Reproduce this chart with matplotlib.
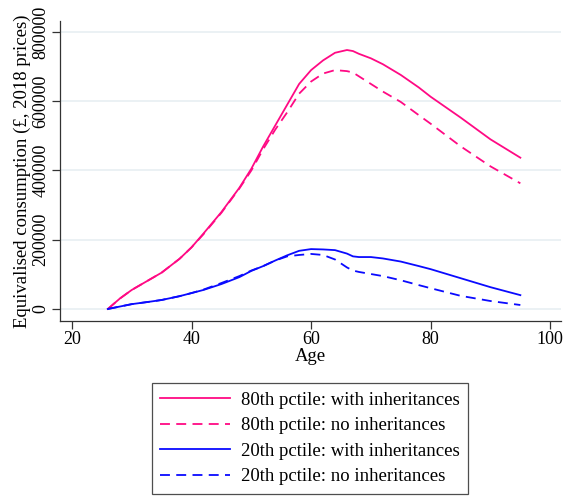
import numpy as np
import matplotlib.pyplot as plt

plt.rcParams['font.family'] = ['Liberation Serif', 'DejaVu Serif']

# consumption paths by age (equivalised, 2018 prices)
age = [26, 28, 30, 33, 35, 38, 40, 42, 45, 48, 50, 52, 54, 56, 58,
       60, 62, 64, 66, 67, 68, 70, 72, 75, 78, 80, 85, 90, 95]

p80_with = [0, 30000, 55000, 85000, 105000, 145000, 178000, 218000, 280000,
            350000, 405000, 470000, 530000, 590000, 650000, 690000, 718000,
            740000, 748000, 745000, 737000, 724000, 707000, 676000, 640000,
            613000, 553000, 490000, 437000]
p80_no = [0, 30000, 55000, 85000, 105000, 145000, 178000, 216000, 278000,
          348000, 400000, 462000, 518000, 568000, 622000, 657000, 680000,
          690000, 687000, 683000, 672000, 650000, 628000, 598000, 560000,
          535000, 470000, 412000, 363000]
p20_with = [0, 7000, 14000, 21000, 26000, 37000, 46000, 55000, 72000, 92000,
            110000, 124000, 140000, 155000, 168000, 173000, 172000, 170000,
            160000, 152000, 150000, 150000, 146000, 137000, 124000, 115000,
            89000, 63000, 40000]
p20_no = [0, 7000, 14000, 21000, 26000, 37000, 46000, 56000, 75000, 95000,
          111000, 124000, 140000, 152000, 156000, 159000, 156000, 143000,
          120000, 111000, 107000, 101000, 95000, 83000, 69000, 60000,
          38000, 23000, 11500]

labels = ['80th pctile: with inheritances', '80th pctile: no inheritances',
          '20th pctile: with inheritances', '20th pctile: no inheritances']

pink = '#ff0a84'
blue = '#0a0aff'

fig = plt.figure(figsize=(5.64, 4.98), dpi=100)
ax = fig.add_axes([60 / 564, 177 / 498, 501 / 564, 300 / 498])

dash = (0, (5.5, 3.5))
ax.plot(age, p80_with, color=pink, lw=1.3, label=labels[0])
ax.plot(age, p80_no, color=pink, lw=1.3, ls=dash, label=labels[1])
ax.plot(age, p20_with, color=blue, lw=1.3, label=labels[2])
ax.plot(age, p20_no, color=blue, lw=1.3, ls=dash, label=labels[3])

ax.set_xlim(18, 101.8)
ax.set_ylim(-34700, 831800)
ax.set_xticks([20, 40, 60, 80, 100])
ax.set_yticks([0, 200000, 400000, 600000, 800000])
ax.set_yticklabels(['0', '200000', '400000', '600000', '800000'],
                   rotation=90, va='center')
ax.grid(axis='y', color='#e8eff2', lw=1.2)
ax.set_axisbelow(True)

for s in ['top', 'right']:
    ax.spines[s].set_visible(False)
for s in ['left', 'bottom']:
    ax.spines[s].set_color('#333333')
    ax.spines[s].set_linewidth(0.9)

ax.tick_params(axis='both', labelsize=13, length=5.5, width=0.9,
               color='#333333', pad=2)
ax.set_xlabel('Age', fontsize=13.5, labelpad=0)
ax.set_ylabel('Equivalised consumption (£, 2018 prices)', fontsize=13.5,
              labelpad=1)

leg = fig.legend(loc='center', bbox_to_anchor=(310 / 564, 1 - 438.5 / 498),
                 fontsize=13.5, frameon=True, fancybox=False, edgecolor='#222222',
                 handlelength=3.7, handletextpad=0.6, labelspacing=0.45,
                 borderpad=0.45, borderaxespad=0)
leg.get_frame().set_linewidth(0.9)

fig.savefig('out.png', dpi=100)
